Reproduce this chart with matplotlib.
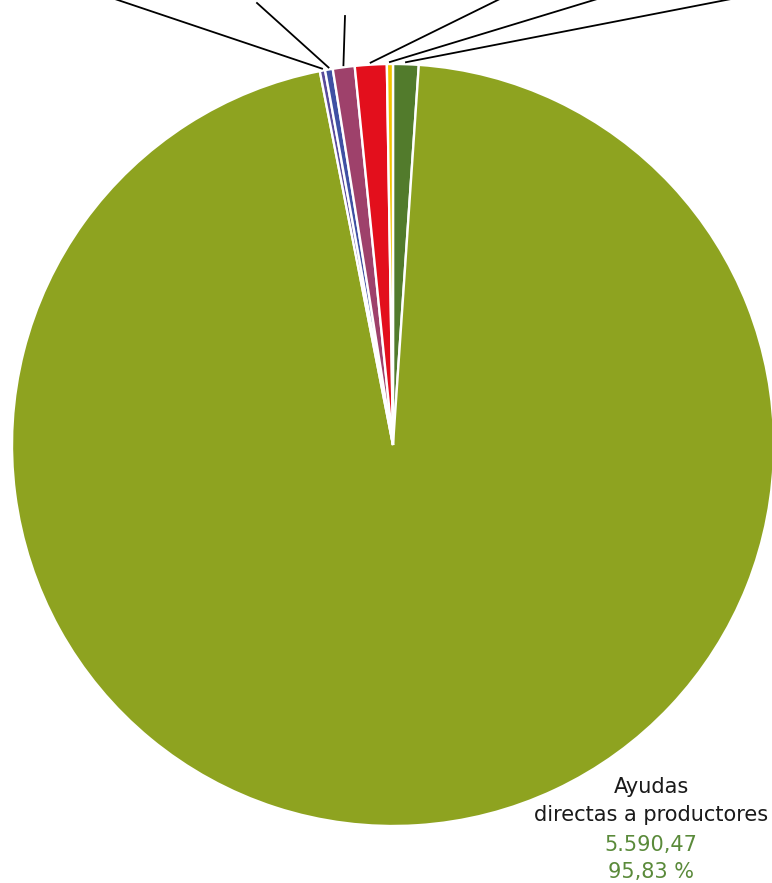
import numpy as np
import matplotlib.pyplot as plt

# FEAGA spending by heading (millions of euros), clockwise from 12 o'clock
values = [63.0, 5590.47, 13.0, 19.0, 54.0, 78.5, 15.0]
colors = ['#527b2c', '#8ea320', '#5a4b9a', '#3f50a3', '#9e416b', '#e30f1c', '#f0c400']
main_label = ['Ayudas', 'directas a productores']
main_value = '5.590,47'
main_pct = '95,83 %'

# label anchors for the small slices (they sit above the visible area)
leader_ends = {0: (762, 890), 2: (97, 890), 3: (257, 880), 4: (345, 867), 5: (512, 890), 6: (617, 890)}

fig = plt.figure(figsize=(7.72, 8.83), dpi=100)
ax = fig.add_axes([0, 0, 1, 1])

cx, cy, r = 393, 438, 381
wedges, _ = ax.pie(values, colors=colors, startangle=90, counterclock=False,
                   center=(cx, cy), radius=r, frame=True,
                   wedgeprops=dict(edgecolor='white', linewidth=1.7))
ax.set_xlim(0, 772)
ax.set_ylim(0, 883)
ax.set_aspect('equal')
ax.axis('off')

# leader lines from each small wedge out to its label
for i, end in leader_ends.items():
    w = wedges[i]
    mid = np.deg2rad((w.theta1 + w.theta2) / 2)
    start = (cx + (r + 2) * np.cos(mid), cy + (r + 2) * np.sin(mid))
    ax.plot([start[0], end[0]], [start[1], end[1]], color='black', lw=1.3,
            clip_on=False)

font = dict(ha='center', va='center', fontsize=15, family='DejaVu Sans')
ax.text(651, 96, main_label[0], color='#1a1a1a', **font)
ax.text(651, 68, main_label[1], color='#1a1a1a', **font)
ax.text(651, 38, main_value, color='#5a8a3a', **font)
ax.text(651, 11, main_pct, color='#5a8a3a', **font)

fig.savefig('out.png', dpi=100)
